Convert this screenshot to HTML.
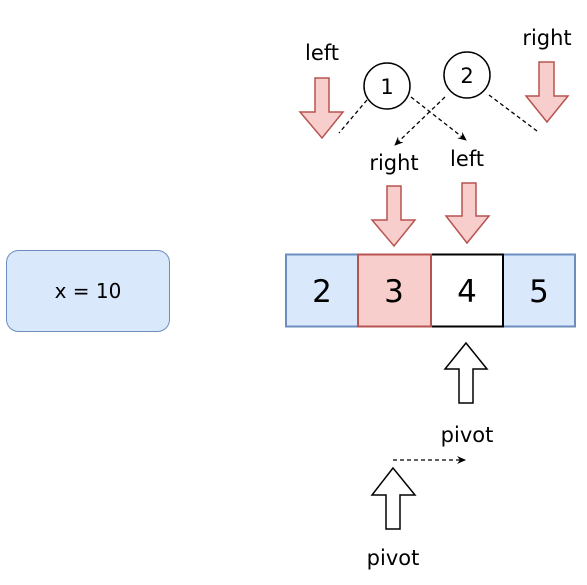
<!DOCTYPE html>
<html><head><meta charset="utf-8"><style>
body{margin:0;background:#fff;}
svg{display:block;font-family:"DejaVu Sans","Liberation Sans",sans-serif;}
</style></head><body>
<svg width="587" height="585" viewBox="0 0 587 585">
<defs><marker id="ah" markerWidth="10" markerHeight="10" refX="8" refY="5" orient="auto" markerUnits="userSpaceOnUse"><path d="M0,1 L9,5 L0,9 L3,5 Z" fill="#000"/></marker></defs>
<g>
<rect x="6.5" y="250.5" width="163" height="81" rx="12" fill="#dae8fc" stroke="#6c8ebf"/>
<text x="88" y="298" font-size="20" text-anchor="middle">x = 10</text></g>
<g>
<rect x="286" y="254.5" width="72" height="72" fill="#dae8fc" stroke="#6c8ebf" stroke-width="2"/>
<rect x="503" y="254.5" width="72" height="72" fill="#dae8fc" stroke="#6c8ebf" stroke-width="2"/>
<rect x="431" y="254.5" width="72" height="72" fill="#fff" stroke="#000" stroke-width="2"/>
<rect x="358" y="254.5" width="73" height="72" fill="#f8cecc" stroke="#b85450" stroke-width="2"/>
<g font-size="31" text-anchor="middle">
<text x="322" y="302">2</text><text x="394" y="302">3</text><text x="467" y="302">4</text><text x="539" y="302">5</text></g></g>
<g fill="#f8cecc" stroke="#b85450" stroke-width="1.5">
<path d="M315,78 H329 V112 H343 L322,138 L300,112 H315 Z"/>
<path d="M539,62 H554 V96 H568 L547,122 L526,96 H539 Z"/>
<path d="M387,186 H401 V220 H415 L394,246 L372,220 H387 Z"/>
<path d="M462,183 H476 V216 H489 L467,243 L446,216 H462 Z"/>
</g>
<g fill="#fff" stroke="#000" stroke-width="1.5">
<path d="M466,343 L487,369 H473 V403 H459 V369 H445 Z"/>
<path d="M393,468 L415,495 H400 V529 H386 V495 H372 Z"/>
</g>
<g stroke="#000" stroke-width="1.3" stroke-dasharray="4,3" fill="none">
<line x1="367" y1="100" x2="339" y2="133"/>
<line x1="411" y1="97" x2="466" y2="140" marker-end="url(#ah)"/>
<line x1="445" y1="97" x2="395" y2="145" marker-end="url(#ah)"/>
<line x1="489" y1="95" x2="537" y2="131"/>
<line x1="393" y1="460" x2="465" y2="460" marker-end="url(#ah)"/>
</g>
<g fill="#fff" stroke="#000" stroke-width="1.5">
<circle cx="387" cy="86" r="23"/>
<circle cx="467" cy="75" r="23"/>
</g>
<g font-size="21" text-anchor="middle">
<text x="387" y="94">1</text><text x="467" y="83">2</text>
<text x="322" y="60">left</text>
<text x="547" y="45">right</text>
<text x="394" y="170">right</text>
<text x="467" y="166">left</text>
<text x="467" y="442">pivot</text>
<text x="393" y="565">pivot</text>
</g>
</svg>
</body></html>
